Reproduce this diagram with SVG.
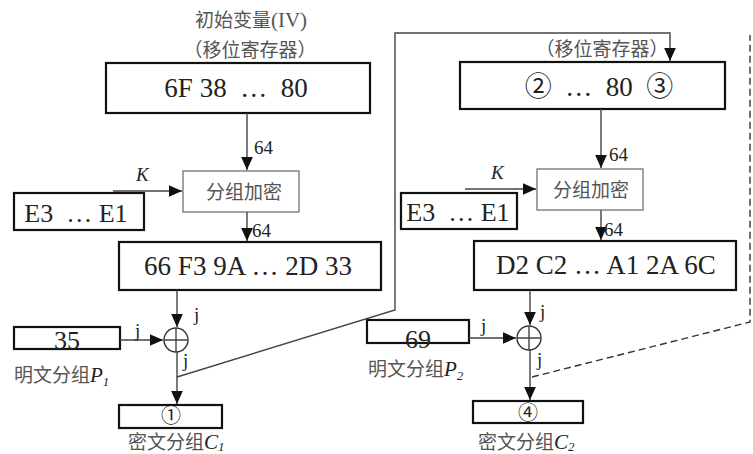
<svg xmlns="http://www.w3.org/2000/svg" width="753" height="454" viewBox="0 0 753 454">
<defs>
<marker id="ahs" viewBox="0 0 10 10" refX="10" refY="5" markerWidth="13" markerHeight="13" markerUnits="userSpaceOnUse" orient="auto">
<path d="M0,0.5 L10,5 L0,9.5 Z" fill="#111"/>
</marker>
</defs>
<style>
.box{fill:#fff;stroke:#111;stroke-width:2.2}
.enc{fill:#fff;stroke:#666;stroke-width:1.2}
.ln{fill:none;stroke:#444;stroke-width:1.4}
.dash{fill:none;stroke:#333;stroke-width:1.4;stroke-dasharray:7,4}
.t{font-family:"Liberation Serif","Noto Sans CJK SC",serif;fill:#222}
.big{font-size:27px}
.sm{font-size:19px}
.cn{font-family:"Noto Sans CJK SC","Liberation Serif",sans-serif;fill:#555}
.it{font-style:italic}
</style>
<rect width="753" height="454" fill="#fff"/>

<g id="title-left">
<text class="cn" x="251" y="27" font-size="19" text-anchor="middle">初始变量<tspan font-family="Liberation Serif" font-size="21">(IV)</tspan></text>
<text class="cn" x="250" y="57" font-size="19" text-anchor="middle">（移位寄存器）</text>
</g>
<g id="iv-left">
<rect class="box" x="106" y="63" width="264" height="50"/>
<text class="t big" x="236" y="97" text-anchor="middle" xml:space="preserve">6F 38  …  80</text>
</g>
<g id="enc-left">
<rect class="enc" x="183" y="171" width="116" height="41"/>
<text class="cn" x="244" y="199" font-size="19" text-anchor="middle">分组加密</text>
</g>
<g id="key-left">
<rect class="box" x="14" y="193" width="130" height="37"/>
<text class="t" x="76" y="222" font-size="26" text-anchor="middle" xml:space="preserve">E3  … E1</text>
</g>
<g id="out-left">
<rect class="box" x="119" y="242" width="262" height="48"/>
<text class="t big" x="248" y="275" text-anchor="middle">66 F3 9A … 2D 33</text>
</g>
<g id="xor-left">
<circle cx="176" cy="340" r="12" fill="#fff" stroke="#333" stroke-width="1.4"/>
<path class="ln" d="M164,340 H188 M176,328 V352"/>
</g>
<g id="p1">
<rect class="box" x="14" y="327" width="106" height="22"/>
<text class="t" x="67" y="349" font-size="26" text-anchor="middle">35</text>
<text class="cn" x="14" y="382" font-size="19">明文分组<tspan class="t it" font-size="21">P</tspan><tspan class="t it" font-size="13" dy="4">1</tspan></text>
</g>
<g id="c1">
<rect class="box" x="119" y="405" width="103" height="23"/>
<text class="t" x="171" y="423" font-size="20" text-anchor="middle">①</text>
<text class="cn" x="128" y="449" font-size="19">密文分组<tspan class="t it" font-size="21">C</tspan><tspan class="t it" font-size="13" dy="2">1</tspan></text>
</g>

<g id="title-right">
<text class="cn" x="602" y="56" font-size="19" text-anchor="middle">（移位寄存器）</text>
</g>
<g id="iv-right">
<rect class="box" x="460" y="62" width="265" height="47"/>
<text class="t big" x="599" y="96" text-anchor="middle" xml:space="preserve">②  …  80  ③</text>
</g>
<g id="enc-right">
<rect class="enc" x="537" y="169" width="106" height="41"/>
<text class="cn" x="591" y="197" font-size="19" text-anchor="middle">分组加密</text>
</g>
<g id="key-right">
<rect class="box" x="401" y="193" width="116" height="36"/>
<text class="t" x="458" y="221" font-size="26" text-anchor="middle" xml:space="preserve">E3  … E1</text>
</g>
<g id="out-right">
<rect class="box" x="474" y="241" width="262" height="49"/>
<text class="t big" x="606" y="274" text-anchor="middle">D2 C2 … A1 2A 6C</text>
</g>
<g id="xor-right">
<circle cx="529" cy="338" r="12" fill="#fff" stroke="#333" stroke-width="1.4"/>
<path class="ln" d="M517,338 H541 M529,326 V350"/>
</g>
<g id="p2">
<rect class="box" x="367" y="320" width="102" height="23"/>
<text class="t" x="418" y="348" font-size="26" text-anchor="middle">69</text>
<text class="cn" x="368" y="376" font-size="19">明文分组<tspan class="t it" font-size="21">P</tspan><tspan class="t it" font-size="13" dy="4">2</tspan></text>
</g>
<g id="c2">
<rect class="box" x="473" y="401" width="110" height="22"/>
<text class="t" x="528" y="420" font-size="20" text-anchor="middle">④</text>
<text class="cn" x="478" y="449" font-size="19">密文分组<tspan class="t it" font-size="21">C</tspan><tspan class="t it" font-size="13" dy="2">2</tspan></text>
</g>

<g id="connectors">
<path class="ln" d="M247,113 V170" marker-end="url(#ahs)"/>
<path class="ln" d="M113,191 H182" marker-end="url(#ahs)"/>
<path class="ln" d="M247,212 V241" marker-end="url(#ahs)"/>
<path class="ln" d="M177,290 V327" marker-end="url(#ahs)"/>
<path class="ln" d="M120,340 H163" marker-end="url(#ahs)"/>
<path class="ln" d="M177,352 V404" marker-end="url(#ahs)"/>
<path class="ln" d="M177,377 L395,310 V33 H670 V61" marker-end="url(#ahs)"/>

<path class="ln" d="M601,109 V168" marker-end="url(#ahs)"/>
<path class="ln" d="M465,189 H536" marker-end="url(#ahs)"/>
<path class="ln" d="M601,210 V240" marker-end="url(#ahs)"/>
<path class="ln" d="M530,290 V325" marker-end="url(#ahs)"/>
<path class="ln" d="M469,338 H516" marker-end="url(#ahs)"/>
<path class="ln" d="M530,350 V400" marker-end="url(#ahs)"/>
<path class="dash" d="M532,377 L750,322 V35"/>

<text class="t sm" x="254" y="154">64</text>
<text class="t sm it" x="136" y="181">K</text>
<text class="t sm" x="252" y="237">64</text>
<text class="t sm" x="194" y="321">j</text>
<text class="t sm" x="135" y="337">j</text>
<text class="t sm" x="183" y="367">j</text>

<text class="t sm" x="609" y="161">64</text>
<text class="t sm it" x="491" y="179">K</text>
<text class="t sm" x="604" y="236">64</text>
<text class="t sm" x="540" y="318">j</text>
<text class="t sm" x="481" y="332">j</text>
<text class="t sm" x="537" y="366">j</text>
</g>
</svg>
